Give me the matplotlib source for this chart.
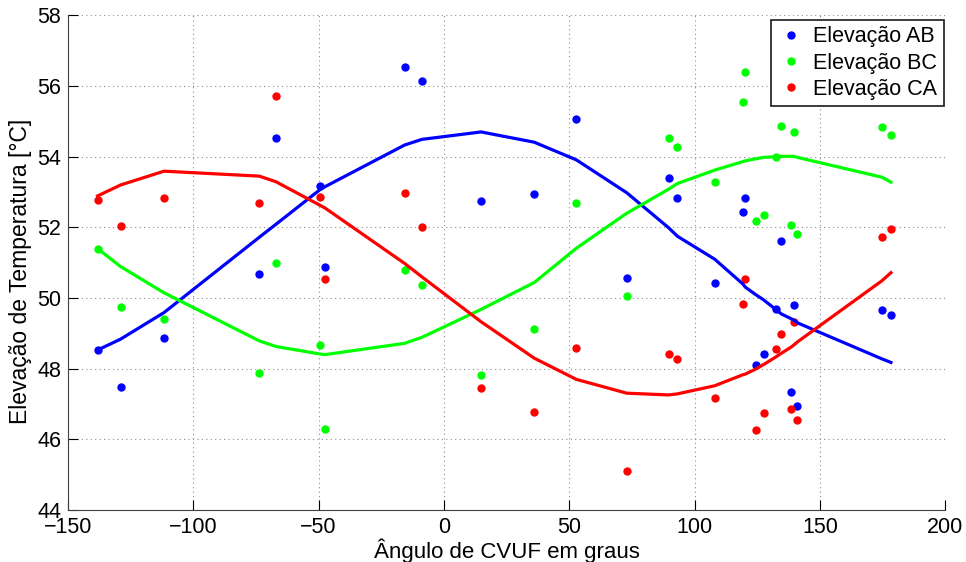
import matplotlib
matplotlib.use('Agg')
import matplotlib.pyplot as plt

plt.rcParams['font.family'] = ['Liberation Sans', 'DejaVu Sans']

# Angle of CVUF (degrees) at each measurement
angles = [-138.2, -129.0, -111.7, -73.7, -67.0, -49.6, -47.5, -15.7, -8.8, 14.8,
          36.0, 52.8, 72.9, 89.6, 93.1, 108.0, 119.2, 120.2, 124.3, 127.5,
          132.5, 134.6, 138.4, 139.5, 141.0, 174.7, 178.3]

# Measured temperature rise per phase pair
ab_pts = [48.53, 47.49, 48.86, 50.68, 54.52, 53.18, 50.87, 56.53, 56.14, 52.74,
          52.95, 55.08, 50.57, 53.40, 52.82, 50.44, 52.43, 52.82, 48.10, 48.41,
          49.69, 51.61, 47.33, 49.81, 46.95, 49.66, 49.51]
bc_pts = [51.40, 49.75, 49.42, 47.89, 50.98, 48.66, 46.30, 50.80, 50.37, 47.83,
          49.13, 52.68, 50.07, 54.52, 54.27, 53.27, 55.56, 56.40, 52.17, 52.35,
          54.00, 54.87, 52.07, 54.69, 51.80, 54.85, 54.61]
ca_pts = [52.78, 52.04, 52.83, 52.69, 55.71, 52.87, 50.53, 52.98, 52.02, 47.45,
          46.79, 48.60, 45.10, 48.43, 48.29, 47.17, 49.84, 50.55, 46.28, 46.75,
          48.55, 48.97, 46.87, 49.32, 46.54, 51.73, 51.95]

# Fitted curves evaluated at the same angles
ab_fit = [48.53, 48.84, 49.59, 51.72, 52.09, 53.06, 53.15, 54.33, 54.49, 54.70,
          54.41, 53.91, 52.98, 51.99, 51.75, 51.10, 50.40, 50.31, 50.10, 49.95,
          49.67, 49.55, 49.42, 49.38, 49.30, 48.28, 48.18]
bc_fit = [51.40, 50.89, 50.15, 48.79, 48.63, 48.42, 48.40, 48.72, 48.89, 49.68,
          50.44, 51.41, 52.40, 53.08, 53.24, 53.62, 53.86, 53.88, 53.94, 53.98,
          54.00, 54.01, 54.01, 54.01, 53.98, 53.42, 53.28]
ca_fit = [52.89, 53.20, 53.59, 53.45, 53.29, 52.63, 52.55, 50.98, 50.60, 49.33,
          48.30, 47.70, 47.31, 47.26, 47.29, 47.52, 47.83, 47.85, 47.99, 48.12,
          48.34, 48.44, 48.61, 48.67, 48.76, 50.49, 50.72]

fig = plt.figure(figsize=(9.66, 5.62), dpi=100)
ax = fig.add_axes([0.0704, 0.0922, 0.9082, 0.8806])

ax.plot(angles, ab_pts, 'o', color=(0, 0, 1), markersize=5, label='Elevação AB')
ax.plot(angles, bc_pts, 'o', color=(0, 1, 0), markersize=5, label='Elevação BC')
ax.plot(angles, ca_pts, 'o', color=(1, 0, 0), markersize=5, label='Elevação CA')
ax.plot(angles, ab_fit, '-', color=(0, 0, 1), linewidth=2.3)
ax.plot(angles, bc_fit, '-', color=(0, 1, 0), linewidth=2.3)
ax.plot(angles, ca_fit, '-', color=(1, 0, 0), linewidth=2.3)

ax.set_xlim(-150, 200)
ax.set_ylim(44, 58)
ax.set_xticks(range(-150, 201, 50))
ax.set_yticks(range(44, 59, 2))
ax.set_xticklabels(['\u2212150', '\u2212100', '\u221250', '0', '50', '100', '150', '200'])

ax.grid(True, color='0.55', linestyle=(0, (1, 3)), linewidth=0.8)
ax.set_axisbelow(True)
ax.spines['top'].set_visible(False)
ax.spines['right'].set_visible(False)
ax.spines['left'].set_color('0.25')
ax.spines['bottom'].set_color('0.25')
ax.tick_params(direction='in', length=7, width=0.8, labelsize=15.5, pad=5)

ax.set_xlabel('Ângulo de CVUF em graus', fontsize=16, labelpad=0)
ax.set_ylabel('Elevação de Temperatura [°C]', fontsize=16.5)
ax.yaxis.set_label_coords(-0.041, 0.483)

leg = ax.legend(loc='upper right', bbox_to_anchor=(0.998, 0.991), borderaxespad=0,
                fontsize=15.5, fancybox=False, framealpha=1, edgecolor='0.1',
                handlelength=1.2, handletextpad=0.45, labelspacing=0.25,
                borderpad=0.3)
leg.get_frame().set_linewidth(1.2)

fig.savefig('out.png', dpi=100)
